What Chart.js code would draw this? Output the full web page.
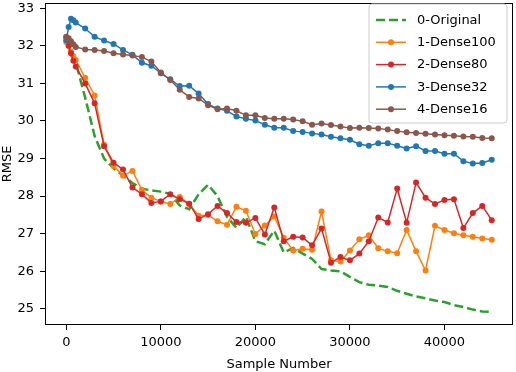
<!DOCTYPE html>
<html>
<head>
<meta charset="utf-8">
<script src="https://cdn.jsdelivr.net/npm/chart.js@4.4.1/dist/chart.umd.min.js"></script>
<style>
html, body { margin: 0; padding: 0; background: #fff; }
#wrap { width: 516px; height: 372px; }
</style>
</head>
<body>
<div id="wrap"><canvas id="rmseChart" width="516" height="372"></canvas></div>
<script>
// sample numbers (x) shared by every run
const samples = [0, 250, 500, 750, 1000,
    2000, 3000, 4000, 5000, 6000, 7000, 8000, 9000, 10000, 11000,
    12000, 13000, 14000, 15000, 16000, 17000, 18000, 19000, 20000, 21000,
    22000, 23000, 24000, 25000, 26000, 27000, 28000, 29000, 30000, 31000,
    32000, 33000, 34000, 35000, 36000, 37000, 38000, 39000, 40000, 41000,
    42000, 43000, 44000, 45000];

const original = [32.1, 31.97, 31.83, 31.69, 31.56,
    30.62, 29.6, 29.0, 28.74, 28.55, 28.35, 28.2, 28.15, 28.12, 28.06,
    27.75, 27.65, 28.05, 28.3, 28.0, 27.45, 27.15, 27.45, 26.8, 26.72,
    27.08, 26.5, 26.62, 26.47, 26.33, 26.06, 26.02, 26.0, 25.85, 25.71,
    25.64, 25.62, 25.58, 25.48, 25.4, 25.33, 25.28, 25.22, 25.18, 25.1,
    25.05, 24.98, 24.93, 24.92];

const dense100 = [32.1, 32.0, 31.85, 31.72, 31.62,
    31.15, 30.68, 29.37, 28.8, 28.54, 28.67, 28.16, 27.96, 27.86, 27.79,
    27.98, 27.79, 27.48, 27.5, 27.33, 27.24, 27.72, 27.61, 26.99, 27.22,
    27.46, 26.89, 26.55, 26.6, 26.57, 27.59, 26.29, 26.26, 26.55, 26.85,
    26.96, 26.61, 26.53, 26.48, 27.1, 26.53, 26.02, 27.21, 27.1, 27.01,
    26.96, 26.92, 26.87, 26.84];

const dense80 = [32.22, 32.0, 31.8, 31.6, 31.45,
    31.0, 30.47, 29.33, 28.89, 28.71, 28.23, 28.05, 27.82, 27.86, 28.05,
    27.92, 27.8, 27.39, 27.52, 27.74, 27.55, 27.31, 27.29, 27.42, 26.98,
    27.7, 26.8, 26.92, 26.9, 26.69, 27.14, 26.23, 26.38, 26.29, 26.47,
    26.8, 27.43, 27.3, 28.2, 27.29, 28.36, 27.96, 27.79, 27.9, 27.92,
    27.15, 27.55, 27.74, 27.36];

const dense32 = [32.15, 32.5, 32.72, 32.68, 32.62,
    32.46, 32.24, 32.14, 32.05, 31.89, 31.76, 31.55, 31.47, 31.27, 31.11,
    30.93, 30.94, 30.73, 30.45, 30.33, 30.27, 30.12, 30.06, 30.01, 29.9,
    29.82, 29.82, 29.73, 29.71, 29.67, 29.64, 29.58, 29.54, 29.5, 29.38,
    29.34, 29.41, 29.41, 29.34, 29.27, 29.33, 29.2, 29.2, 29.13, 29.13,
    28.93, 28.87, 28.88, 28.97];

const dense16 = [32.24, 32.2, 32.12, 32.04, 31.97,
    31.9, 31.89, 31.86, 31.8, 31.77, 31.74, 31.7, 31.58, 31.29, 31.09,
    30.83, 30.64, 30.6, 30.42, 30.31, 30.33, 30.27, 30.15, 30.15, 30.08,
    30.06, 30.06, 30.04, 29.99, 29.9, 29.93, 29.89, 29.85, 29.81, 29.82,
    29.81, 29.8, 29.77, 29.73, 29.7, 29.68, 29.66, 29.64, 29.62, 29.61,
    29.59, 29.58, 29.55, 29.54];

const seriesNames = ['0-Original', '1-Dense100', '2-Dense80', '3-Dense32', '4-Dense16'];
const seriesValues = [original, dense100, dense80, dense32, dense16];
const seriesColors = ['#2ca02c', '#ff7f0e', '#d62728', '#1f77b4', '#8c564b'];

const xTicks = [0, 10000, 20000, 30000, 40000];
const yTicks = [25, 26, 27, 28, 29, 30, 31, 32, 33];

const FONT = 'DejaVu Sans';

function toPoints(values) {
    return samples.map(function(s, i) { return { x: s, y: values[i] }; });
}

// top/right spines plus a matplotlib-like legend box
const frameAndLegend = {
    id: 'frameAndLegend',
    afterDatasetsDraw: function(chart) {
        const ctx = chart.ctx;
        const a = chart.chartArea;
        ctx.save();
        ctx.strokeStyle = '#000';
        ctx.lineWidth = 1;
        ctx.strokeRect(Math.round(a.left) + 0.5, Math.round(a.top) + 0.5,
            Math.round(a.right - a.left) - 1, Math.round(a.bottom - a.top) - 1);

        // legend
        const bx = 369, by = 4, bw = 138, bh = 119, r = 3;
        ctx.beginPath();
        ctx.moveTo(bx + r, by);
        ctx.arcTo(bx + bw, by, bx + bw, by + bh, r);
        ctx.arcTo(bx + bw, by + bh, bx, by + bh, r);
        ctx.arcTo(bx, by + bh, bx, by, r);
        ctx.arcTo(bx, by, bx + bw, by, r);
        ctx.closePath();
        ctx.fillStyle = 'rgba(255,255,255,0.8)';
        ctx.fill();
        ctx.strokeStyle = '#cccccc';
        ctx.stroke();

        ctx.font = '13px "' + FONT + '"';
        ctx.textBaseline = 'middle';
        ctx.textAlign = 'left';
        seriesNames.forEach(function(name, i) {
            const y = 20 + i * 22.3;
            ctx.strokeStyle = seriesColors[i];
            ctx.fillStyle = seriesColors[i];
            if (i === 0) {
                ctx.lineWidth = 2.5;
                ctx.setLineDash([9, 4]);
            } else {
                ctx.lineWidth = 1.5;
                ctx.setLineDash([]);
            }
            ctx.beginPath();
            ctx.moveTo(376, y);
            ctx.lineTo(406, y);
            ctx.stroke();
            ctx.setLineDash([]);
            if (i > 0) {
                ctx.beginPath();
                ctx.arc(391, y, 3, 0, Math.PI * 2);
                ctx.fill();
            }
            ctx.fillStyle = '#000';
            ctx.fillText(name, 417, y + 0.5);
        });
        ctx.restore();
    }
};

const datasets = seriesValues.map(function(values, i) {
    const isOriginal = i === 0;
    return {
        label: seriesNames[i],
        data: toPoints(values),
        borderColor: seriesColors[i],
        backgroundColor: seriesColors[i],
        borderWidth: isOriginal ? 2.5 : 1.5,
        borderDash: isOriginal ? [9, 4] : [],
        pointRadius: isOriginal ? 0 : 3,
        pointHoverRadius: isOriginal ? 0 : 3,
        pointBorderWidth: 0,
        tension: 0,
        order: seriesNames.length - i
    };
});

new Chart(document.getElementById('rmseChart').getContext('2d'), {
    type: 'line',
    data: { datasets: datasets },
    options: {
        responsive: false,
        animation: false,
        devicePixelRatio: 1,
        layout: { padding: { left: 0, right: 2, top: 1, bottom: 0 } },
        plugins: {
            legend: { display: false },
            tooltip: { enabled: false }
        },
        scales: {
            x: {
                type: 'linear',
                min: -2250,
                max: 47250,
                afterFit: function(scale) {
                    scale.height = 47;
                    scale.paddingLeft = 0;
                    scale.paddingRight = 0;
                },
                afterBuildTicks: function(scale) {
                    scale.ticks = xTicks.map(function(v) { return { value: v }; });
                },
                border: { display: false },
                grid: {
                    drawOnChartArea: false,
                    drawTicks: true,
                    tickLength: 5,
                    color: '#000'
                },
                ticks: {
                    color: '#000',
                    padding: 5,
                    maxRotation: 0,
                    font: { family: FONT, size: 13 },
                    callback: function(v) { return String(v); }
                },
                title: {
                    display: true,
                    text: 'Sample Number',
                    color: '#000',
                    font: { family: FONT, size: 13 },
                    padding: { top: 3, bottom: 0 }
                }
            },
            y: {
                min: 24.57,
                max: 33.14,
                afterFit: function(scale) {
                    scale.width = 45;
                    scale.paddingTop = 0;
                    scale.paddingBottom = 0;
                },
                afterBuildTicks: function(scale) {
                    scale.ticks = yTicks.map(function(v) { return { value: v }; });
                },
                border: { display: false },
                grid: {
                    drawOnChartArea: false,
                    drawTicks: true,
                    tickLength: 5,
                    color: '#000'
                },
                ticks: {
                    color: '#000',
                    padding: 6,
                    font: { family: FONT, size: 13 },
                    callback: function(v) { return String(v); }
                },
                title: {
                    display: true,
                    text: 'RMSE',
                    color: '#000',
                    font: { family: FONT, size: 13 },
                    padding: { top: 0, bottom: 2 }
                }
            }
        }
    },
    plugins: [frameAndLegend]
});
</script>
</body>
</html>
